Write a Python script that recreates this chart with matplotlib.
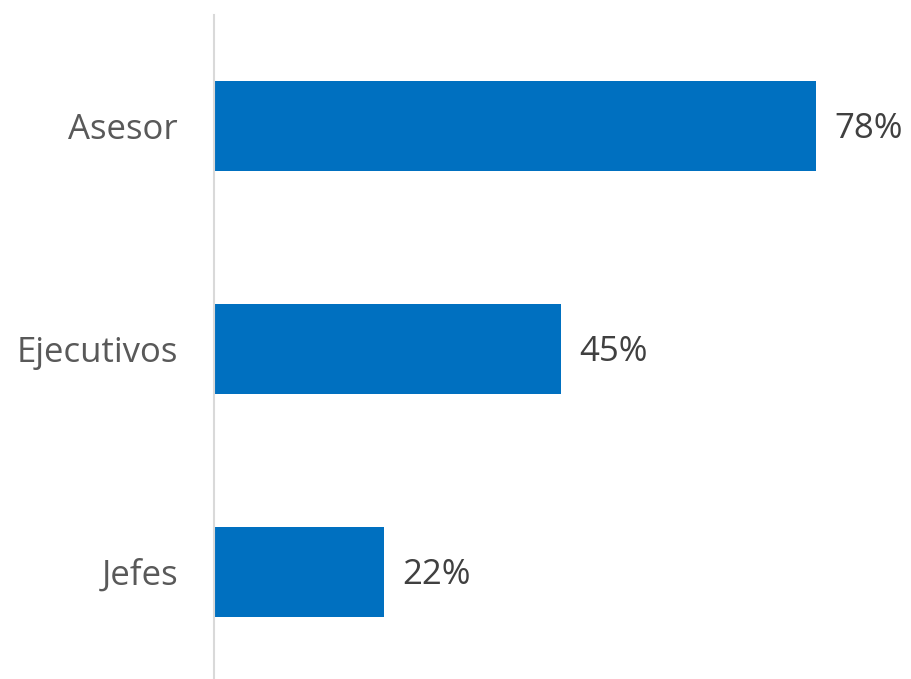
import matplotlib.pyplot as plt

categories = ['Asesor', 'Ejecutivos', 'Jefes']
values = [78, 45, 22]

plt.rcParams['font.family'] = ['Open Sans', 'DejaVu Sans']

fig = plt.figure(figsize=(9.11, 6.79), dpi=100)
ax = fig.add_axes([214 / 911, -4.5 / 679, 697 / 911, 669 / 679])

bars = ax.barh(categories, values, height=0.4, color='#0070C0')
ax.set_xlim(0, 90.3)
ax.set_ylim(2.5, -0.5)

# value labels
for bar, v in zip(bars, values):
    ax.annotate(f'{v}%', (v, bar.get_y() + bar.get_height() / 2),
                xytext=(13, -2.5), textcoords='offset points',
                va='center', ha='left', fontsize=25, color='#404040')

for side in ['top', 'right', 'bottom']:
    ax.spines[side].set_visible(False)
ax.spines['left'].set_color('#D9D9D9')
ax.spines['left'].set_linewidth(1.5)

ax.set_xticks([])
ax.tick_params(axis='y', length=0, pad=26, labelsize=25, labelcolor='#595959')

plt.savefig('out.png', dpi=100)
